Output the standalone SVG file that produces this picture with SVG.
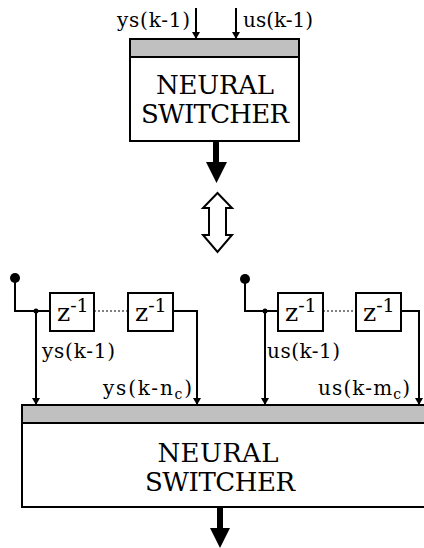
<svg xmlns="http://www.w3.org/2000/svg" width="424" height="548" viewBox="0 0 424 548">
<style>
  text { font-family: "DejaVu Serif", "Liberation Serif", serif; fill: #000; }
  .lbl { font-size: 20px; }
  .big { font-size: 26px; text-anchor: middle; }
  .z { font-size: 25px; }
  .box { fill: #fff; stroke: #000; stroke-width: 2; }
  .band { fill: #c0c0c0; stroke: #000; stroke-width: 2; }
  .ln { fill: none; stroke: #000; stroke-width: 2; }
  .dot { fill: none; stroke: #000; stroke-width: 1.2; stroke-dasharray: 2 2; }
</style>
<defs>
  <marker id="ah" viewBox="0 0 7 8" refX="7" refY="4" markerWidth="7" markerHeight="8" markerUnits="userSpaceOnUse" orient="auto">
    <path d="M0,0 L7,4 L0,8 Z" fill="#000"/>
  </marker>
</defs>

<g id="switcher-top">
  <rect class="box" x="130" y="39" width="169" height="102"/>
  <rect class="band" x="130" y="39" width="169" height="18"/>
  <text class="big" x="215" y="94" textLength="118">NEURAL</text>
  <text class="big" x="215" y="123" textLength="148">SWITCHER</text>
</g>

<g id="switcher-bottom">
  <rect class="box" x="22" y="405" width="406" height="102"/>
  <rect class="band" x="22" y="405" width="406" height="18"/>
  <text class="big" x="218" y="462" textLength="121">NEURAL</text>
  <text class="big" x="220" y="491" textLength="150">SWITCHER</text>
</g>

<g id="delay-y1">
  <rect class="box" x="50" y="293" width="44" height="38"/>
  <text class="z" x="57" y="321">z<tspan font-size="19" dy="-9">-1</tspan></text>
</g>
<g id="delay-y2">
  <rect class="box" x="128" y="293" width="45" height="38"/>
  <text class="z" x="135" y="321">z<tspan font-size="19" dy="-9">-1</tspan></text>
</g>
<g id="delay-u1">
  <rect class="box" x="278" y="293" width="45" height="38"/>
  <text class="z" x="285" y="321">z<tspan font-size="19" dy="-9">-1</tspan></text>
</g>
<g id="delay-u2">
  <rect class="box" x="356" y="293" width="45" height="38"/>
  <text class="z" x="363" y="321">z<tspan font-size="19" dy="-9">-1</tspan></text>
</g>

<g id="terminal-y">
  <circle cx="15" cy="278" r="5" fill="#000"/>
</g>
<g id="terminal-u">
  <circle cx="245" cy="279" r="5" fill="#000"/>
</g>

<g id="double-arrow">
  <polygon points="217.5,193 232,208 226,208 226,235 232,235 217.5,252 203,235 209,235 209,208 203,208" fill="#fff" stroke="#000" stroke-width="2" stroke-linejoin="miter"/>
</g>

<g id="connectors">
  <line class="ln" x1="196" y1="8" x2="196" y2="39" marker-end="url(#ah)"/>
  <line class="ln" x1="236" y1="8" x2="236" y2="39" marker-end="url(#ah)"/>
  <rect x="213" y="141" width="6" height="23" fill="#000"/>
  <polygon points="206,162 227,162 216.5,183" fill="#000"/>
  <rect x="217" y="507" width="6" height="23" fill="#000"/>
  <polygon points="210,528 230,528 220,548" fill="#000"/>

  <polyline class="ln" points="15,278 15,311 50,311"/>
  <circle cx="36" cy="311" r="2.5" fill="#000"/>
  <line class="ln" x1="36" y1="311" x2="36" y2="405" marker-end="url(#ah)"/>
  <line class="dot" x1="94" y1="311" x2="128" y2="311"/>
  <polyline class="ln" points="173,311 197,311 197,405" marker-end="url(#ah)"/>

  <polyline class="ln" points="245,279 245,311 278,311"/>
  <circle cx="265" cy="311" r="2.5" fill="#000"/>
  <line class="ln" x1="265" y1="311" x2="265" y2="405" marker-end="url(#ah)"/>
  <line class="dot" x1="323" y1="311" x2="356" y2="311"/>
  <polyline class="ln" points="401,311 419,311 419,405" marker-end="url(#ah)"/>
</g>

<g id="labels">
  <text class="lbl" x="117" y="27" textLength="73">ys(k-1)</text>
  <text class="lbl" x="243" y="27" textLength="70">us(k-1)</text>
  <text class="lbl" x="42" y="358" textLength="73">ys(k-1)</text>
  <text class="lbl" x="267" y="358" textLength="73">us(k-1)</text>
  <text class="lbl" x="103" y="395" textLength="89">ys(k-n<tspan font-size="14" dy="4">c</tspan><tspan dy="-4">)</tspan></text>
  <text class="lbl" x="318" y="395" textLength="92">us(k-m<tspan font-size="14" dy="4">c</tspan><tspan dy="-4">)</tspan></text>
</g>
</svg>
